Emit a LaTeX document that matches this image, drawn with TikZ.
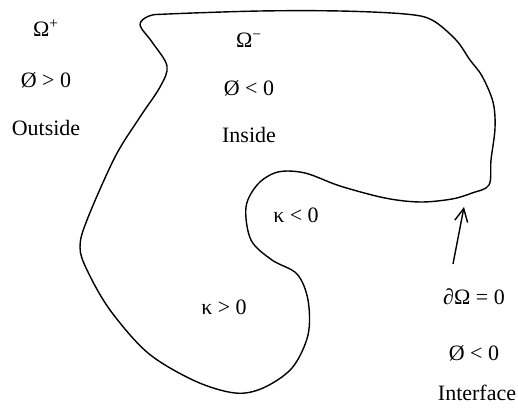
\documentclass[tikz,border=0pt]{standalone}
\usepackage{fontspec}
\setmainfont{Liberation Serif}
\usetikzlibrary{arrows.meta}

\begin{document}
\begin{tikzpicture}[x=0.02cm, y=-0.02cm,
  every node/.style={font=\fontsize{12.5}{15}\selectfont, inner sep=1pt},
  rand/.style={line width=0.8pt, black},
  pijl/.style={-{Straight Barb[length=2.6mm, width=2.6mm]}, line width=0.8pt},
  lbl/.style={anchor=center}
]
\useasboundingbox (0,0) rectangle (518,409);
% interface curve
\draw[rand] plot[smooth cycle, tension=0.55] coordinates {
  (168,14) (260,11) (340,11) (405,14) (432,20) (456,40) (470,60) (482,76)
  (493,102) (495,128) (491,160) (489,185) (472,193) (452,199) (420,202)
  (385,198) (340,186) (305,173) (278,172) (258,184) (246,207) (251,240)
  (272,260) (297,274) (308,300) (308,335) (292,368) (263,388) (235,393)
  (195,381) (148,353) (110,310) (87,270) (80,247) (87,220) (115,157)
  (140,117) (160,87) (167,66) (152,42) (140,25) (149,16)};
% outside
\node[lbl] (OmegaPlus) at (46,28) {Ω\textsuperscript{+}};
\node[lbl] (PhiOut) at (46,80) {Ø > 0};
\node[lbl] (Outside) at (46,128) {Outside};
% inside
\node[lbl] (OmegaMin) at (249,40) {Ω\textsuperscript{−}};
\node[lbl] (PhiIn) at (249,88) {Ø < 0};
\node[lbl] (Inside) at (249,135) {Inside};
% curvature
\node[lbl] (KappaNeg) at (296,215) {κ < 0};
\node[lbl] (KappaPos) at (224,307) {κ > 0};
% interface
\node[lbl] (dOmega) at (474,297) {∂Ω = 0};
\node[lbl] (PhiIf) at (474,353) {Ø < 0};
\node[lbl] (Interface) at (477,393) {Interface};
\coordinate (staart) at (453,264);
\coordinate (punt) at (464,207);
\draw[pijl] (staart) -- (punt);
\end{tikzpicture}
\end{document}
